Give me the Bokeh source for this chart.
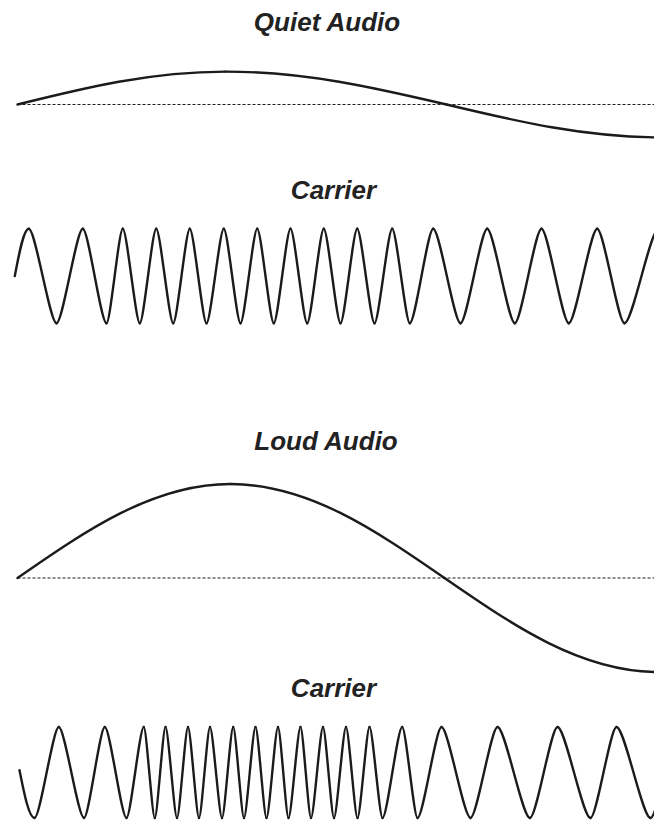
from bokeh.plotting import figure
from bokeh.models import Range1d, ColumnDataSource
from bokeh.core.properties import value
from bokeh.embed import file_html
from bokeh.resources import INLINE

# ---------------- data ----------------
titles = ["Quiet Audio", "Carrier", "Loud Audio", "Carrier"]

# audio: times of zero crossings / extrema, and signal values there
quiet_audio_t = [17, 225, 446, 662]
quiet_audio_v = [0.0, 0.35, 0.0, -0.35]

loud_audio_t = [17, 230, 444, 658]
loud_audio_v = [0.0, 1.0, 0.0, -1.0]

# zero reference line extent (time)
zero_line_t = [17, 654]
zero_line_v = [0.0, 0.0]

# carrier: start point then alternating peaks / troughs
quiet_carrier_t = [14.3, 28.3, 56, 82.3, 106, 122.3, 139.3, 155.7, 172.7, 189.3,
                   206, 223.3, 240, 256.7, 273.3, 290, 306.7, 323.3, 340, 356.7,
                   374, 391.7, 409.3, 432.7, 460, 486.7, 514.3, 541, 568.3, 596.7,
                   624, 658]
quiet_carrier_v = [0.0, 1, -1, 1, -1, 1, -1, 1, -1, 1,
                   -1, 1, -1, 1, -1, 1, -1, 1, -1, 1,
                   -1, 1, -1, 1, -1, 1, -1, 1, -1, 1,
                   -1, 1]

loud_carrier_t = [19, 34, 58.3, 83.5, 104.3, 126, 143.3, 154.3, 165, 176.5,
                  187.5, 198.5, 209.5, 221.5, 232.7, 243.5, 255, 266, 277.5, 288,
                  300, 310.5, 322.5, 333.5, 345.5, 357, 369, 382, 401.7, 417,
                  441, 470, 497, 529.5, 557, 590, 616, 650, 680]
loud_carrier_v = [0.05, -1, 1, -1, 1, -1, 1, -1, 1, -1,
                  1, -1, 1, -1, 1, -1, 1, -1, 1, -1,
                  1, -1, 1, -1, 1, -1, 1, -1, 1, -1,
                  1, -1, 1, -1, 1, -1, 1, -1, 1]

# ---------------- layout (page pixels) ----------------
W, H = 654, 823
PAGE_X0, PAGE_X1 = 0, 654
PAGE_TOP, PAGE_BOTTOM = 0, 823
# panel baseline (page y) and pixels per signal unit
PANELS = {
    "quiet_audio": (104.0, 94.0),
    "quiet_carrier": (275.5, 47.2),
    "loud_audio": (577.5, 94.0),
    "loud_carrier": (772.0, 45.5),
}
TITLE_X = [327, 333, 326, 333]
TITLE_Y = [21, 189, 440, 687]
INK = "#1b1b1b"
HALF_K = 0.24   # handle length for half-cycle curves (pointed tips)


def segments(ts, vs):
    d = dict(x0=[], y0=[], x1=[], y1=[], cx0=[], cy0=[], cx1=[], cy1=[])
    for i in range(len(ts) - 1):
        t0, t1, v0, v1 = ts[i], ts[i + 1], vs[i], vs[i + 1]
        dt = t1 - t0
        ext0 = abs(v0) > 0.2
        ext1 = abs(v1) > 0.2
        if ext0 and ext1:
            c0 = (t0 + HALF_K * dt, v0)
            c1 = (t1 - HALF_K * dt, v1)
        elif ext1:  # zero -> extremum
            c0 = (t0 + 0.3261 * dt, v0 + 0.5123 * (v1 - v0))
            c1 = (t0 + 0.6381 * dt, v1)
        elif ext0:  # extremum -> zero
            c0 = (t0 + 0.3619 * dt, v0)
            c1 = (t0 + 0.6739 * dt, v1 + 0.5123 * (v0 - v1))
        else:
            c0 = (t0 + dt / 3, v0)
            c1 = (t1 - dt / 3, v1)
        d["x0"].append(t0); d["y0"].append(v0)
        d["x1"].append(t1); d["y1"].append(v1)
        d["cx0"].append(c0[0]); d["cy0"].append(c0[1])
        d["cx1"].append(c1[0]); d["cy1"].append(c1[1])
    return ColumnDataSource(d)


p = figure(width=W, height=H, output_backend="svg", toolbar_location=None,
           x_range=Range1d(PAGE_X0, PAGE_X1),
           y_range=Range1d(PAGE_BOTTOM, PAGE_TOP),
           x_axis_type=None, y_axis_type=None, min_border=0,
           outline_line_color=None, background_fill_color="white",
           border_fill_color="white")

for name, (base, scale) in PANELS.items():
    p.extra_y_ranges[name] = Range1d(start=(base - PAGE_BOTTOM) / scale,
                                     end=(base - PAGE_TOP) / scale)

# dashed zero lines for audio
for name in ("quiet_audio", "loud_audio"):
    p.line(zero_line_t, zero_line_v, y_range_name=name, line_color=INK,
           line_width=1, line_dash="3 2")

series = [("quiet_audio", quiet_audio_t, quiet_audio_v),
          ("quiet_carrier", quiet_carrier_t, quiet_carrier_v),
          ("loud_audio", loud_audio_t, loud_audio_v),
          ("loud_carrier", loud_carrier_t, loud_carrier_v)]
for name, ts, vs in series:
    p.bezier(x0="x0", y0="y0", x1="x1", y1="y1", cx0="cx0", cy0="cy0",
             cx1="cx1", cy1="cy1", source=segments(ts, vs), y_range_name=name,
             line_color=INK, line_width=2.4, line_cap="round")

p.text(x=TITLE_X, y=TITLE_Y, text=titles, text_align="center",
       text_baseline="middle", text_font=value("Liberation Sans"),
       text_font_style="bold italic", text_font_size="26px", text_color="#222222")

open("out.html", "w").write(file_html(p, INLINE))
